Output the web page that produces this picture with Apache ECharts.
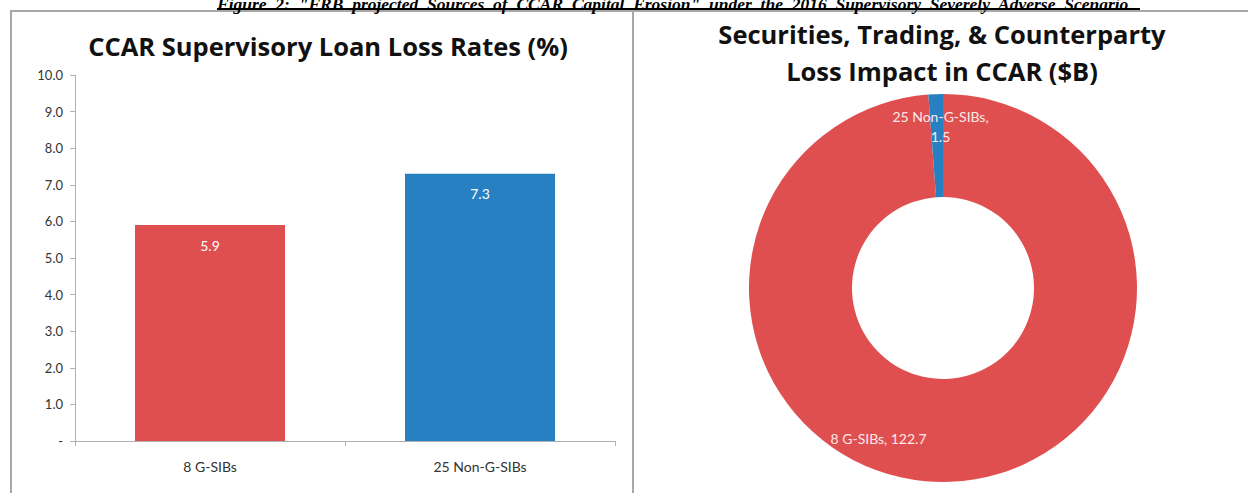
<!DOCTYPE html>
<html><head><meta charset="utf-8">
<script src="https://cdn.jsdelivr.net/npm/echarts@6/dist/echarts.min.js"></script>
<style>html,body{margin:0;padding:0;background:#fff}#c{width:1248px;height:493px}</style>
</head><body><div id="c"></div>
<script>
// ---- data ----
var barCategories = ['8 G-SIBs', '25 Non-G-SIBs'];
var barValues = [5.9, 7.3];
var pieNames = ['8 G-SIBs', '25 Non-G-SIBs'];
var pieValues = [122.7, 1.5];
var caption = 'Figure  2:  "FRB  projected  Sources  of  CCAR  Capital  Erosion"  under  the  2016  Supervisory  Severely  Adverse  Scenario';
var leftTitle = 'CCAR Supervisory Loan Loss Rates (%)';
var rightTitle = 'Securities, Trading, & Counterparty\nLoss Impact in CCAR ($B)';

var RED = '#E04F4F', BLUE = '#2680C2';
var FONT = '"Open Sans", Lato, sans-serif';
var LFONT = 'Lato, "Open Sans", sans-serif';

var chart = echarts.init(document.getElementById('c'), null, {renderer: 'svg'});
var pieOffsets = [[-70, 5], [3, -16]];
chart.setOption({
  animation: false,
  title: [
    {text: leftTitle, left: 323, top: 28, textAlign: 'center',
     textStyle: {fontFamily: FONT, fontSize: 25.5, fontWeight: 700, color: '#111'}},
    {text: rightTitle, left: 937, top: 10, textAlign: 'center',
     textStyle: {fontFamily: FONT, fontSize: 25.5, fontWeight: 700, color: '#111', lineHeight: 37}}
  ],
  grid: {left: 75, top: 75, width: 540, height: 366},
  xAxis: {
    type: 'category', data: barCategories,
    axisLine: {lineStyle: {color: '#b0b0b0', width: 1}},
    axisTick: {show: true, length: 5, lineStyle: {color: '#b0b0b0'}},
    axisLabel: {fontFamily: LFONT, fontSize: 14, color: '#333', margin: 18}
  },
  yAxis: {
    type: 'value', min: 0, max: 10, interval: 1,
    axisLine: {show: true, lineStyle: {color: '#b0b0b0', width: 1}},
    axisTick: {show: true, length: 5, lineStyle: {color: '#b0b0b0'}},
    splitLine: {show: false},
    axisLabel: {fontFamily: LFONT, fontSize: 13, color: '#333', margin: 12,
      formatter: function (v) { return v === 0 ? '-' : v.toFixed(1); }}
  },
  series: [
    {type: 'bar', barWidth: 150,
     data: barValues.map(function (v, i) { return {value: v, itemStyle: {color: i === 0 ? RED : BLUE}}; }),
     label: {show: true, position: 'insideTop', distance: 13, color: '#fff',
       fontFamily: LFONT, fontSize: 14, formatter: function (p) { return p.value.toFixed(1); }}},
    {type: 'pie', center: [943, 288], radius: [91, 194], startAngle: 90, clockwise: true,
     avoidLabelOverlap: false,
     data: pieValues.map(function (v, i) {
       return {name: pieNames[i], value: v, itemStyle: {color: i === 0 ? RED : BLUE},
         label: {offset: pieOffsets[i]}};
     }),
     label: {show: true, position: 'inside', color: '#fbe9e9', fontFamily: LFONT, fontSize: 14,
       lineHeight: 20,
       formatter: function (p) { return p.dataIndex === 0 ? p.name + ', ' + p.value : p.name + ',\n' + p.value; }},
     labelLine: {show: false}, emphasis: {disabled: true}}
  ],
  graphic: [
    {type: 'rect', shape: {x: 11, y: 11, width: 1250, height: 500}, style: {fill: 'none', stroke: '#a8a8a8', lineWidth: 2}},
    {type: 'line', shape: {x1: 633, y1: 11, x2: 633, y2: 493}, style: {stroke: '#a8a8a8', lineWidth: 2}},
    {type: 'text', left: 217, top: -5, style: {text: caption, fontFamily: '"Liberation Serif", serif',
      fontStyle: 'italic', fontWeight: 'bold', fontSize: 17.5, fill: '#000'}},
    {type: 'line', shape: {x1: 217, y1: 9, x2: 1140, y2: 9}, style: {stroke: '#000', lineWidth: 2}}
  ]
});
</script></body></html>
